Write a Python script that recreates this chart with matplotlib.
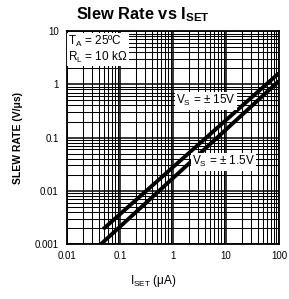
import matplotlib
matplotlib.use("Agg")
import matplotlib.pyplot as plt
from matplotlib.ticker import LogLocator, FixedLocator, NullFormatter

plt.rcParams['font.family'] = ['Liberation Sans', 'DejaVu Sans']
plt.rcParams['mathtext.fontset'] = 'custom'
plt.rcParams['mathtext.rm'] = 'Liberation Sans'
plt.rcParams['mathtext.it'] = 'Liberation Sans:italic'
plt.rcParams['mathtext.bf'] = 'Liberation Sans:bold'

# data (log-log straight lines)
iset_15 = [0.048, 100]
slew_15 = [0.0019, 1.62]
iset_1p5 = [0.044, 100]
slew_1p5 = [0.001, 1.15]

xticks = [0.01, 0.1, 1, 10, 100]
xlabels = ["0.01", "0.1", "1", "10", "100"]
yticks = [0.001, 0.01, 0.1, 1, 10]
ylabels = ["0.001", "0.01", "0.1", "1", "10"]

fig = plt.figure(figsize=(2.89, 2.99), dpi=100)
ax = fig.add_axes([0.232, 0.184, 0.733, 0.712])
ax.set_xscale('log')
ax.set_yscale('log')
ax.set_xlim(0.01, 100)
ax.set_ylim(0.001, 10)

ax.xaxis.set_major_locator(FixedLocator(xticks))
ax.yaxis.set_major_locator(FixedLocator(yticks))
ax.xaxis.set_minor_locator(LogLocator(base=10, subs=range(2, 10), numticks=20))
ax.yaxis.set_minor_locator(LogLocator(base=10, subs=range(2, 10), numticks=20))
ax.xaxis.set_minor_formatter(NullFormatter())
ax.yaxis.set_minor_formatter(NullFormatter())
ax.set_xticklabels(xlabels, fontsize=7)
ax.set_yticklabels(ylabels, fontsize=7)
ax.tick_params(which='both', length=0)
ax.tick_params(axis='x', pad=5)
ax.tick_params(axis='y', pad=6)

ax.grid(which='major', color='black', linewidth=1.1)
ax.grid(which='minor', color='black', linewidth=0.75)
for s in ax.spines.values():
    s.set_linewidth(1.3)

ax.plot(iset_15, slew_15, color='black', linewidth=2.8, solid_capstyle='butt')
ax.plot(iset_1p5, slew_1p5, color='black', linewidth=2.8, solid_capstyle='butt')

box = dict(facecolor='white', edgecolor='none', pad=1)
ax.text(0.0105, 8.7, "$\\mathregular{T_A}$ = 25ºC\n$\\mathregular{R_L}$ = 10 kΩ",
        fontsize=8.5, va='top', ha='left', bbox=box, linespacing=1.05)
ax.text(4.2, 0.49, "$\\mathregular{V_S}$ = ± 15V", fontsize=8.5,
        ha='center', va='center', bbox=box)
ax.text(9.0, 0.035, "$\\mathregular{V_S}$ = ± 1.5V", fontsize=8.5,
        ha='center', va='center', bbox=box)

fig.text(0.495, 0.95, "Slew Rate vs $\\mathregular{I_{SET}}$", fontsize=11.8,
         fontweight='bold', ha='center', va='center')
fig.text(0.53, 0.06, "$\\mathregular{I_{SET}}$ (μA)", fontsize=8.5,
         ha='center', va='center')
fig.text(0.062, 0.54, "SLEW RATE (V/μs)", fontsize=7.5, fontweight='bold',
         rotation=90, ha='center', va='center')

fig.savefig("out.png", dpi=100)
